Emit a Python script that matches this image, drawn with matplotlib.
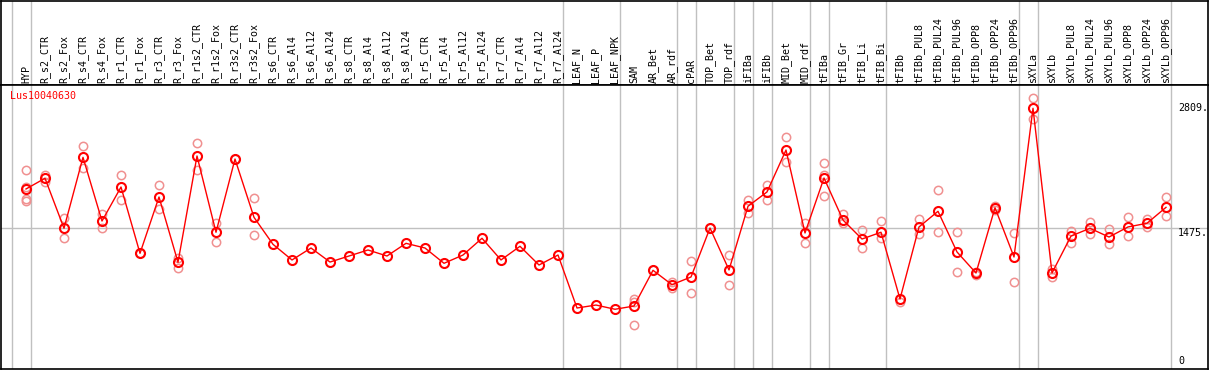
import matplotlib
matplotlib.use("Agg")
import matplotlib.pyplot as plt

labels = ["HYP", "R_s2_CTR", "R_s2_Fox", "R_s4_CTR", "R_s4_Fox", "R_r1_CTR", "R_r1_Fox",
          "R_r3_CTR", "R_r3_Fox", "R_r1s2_CTR", "R_r1s2_Fox", "R_r3s2_CTR", "R_r3s2_Fox",
          "R_s6_CTR", "R_s6_Al4", "R_s6_Al12", "R_s6_Al24", "R_s8_CTR", "R_s8_Al4",
          "R_s8_Al12", "R_s8_Al24", "R_r5_CTR", "R_r5_Al4", "R_r5_Al12", "R_r5_Al24",
          "R_r7_CTR", "R_r7_Al4", "R_r7_Al12", "R_r7_Al24", "LEAF_N", "LEAF_P", "LEAF_NPK",
          "SAM", "AR_Bet", "AR_rdf", "cPAR", "TOP_Bet", "TOP_rdf", "iFIBa", "iFIBb",
          "MID_Bet", "MID_rdf", "tFIBa", "tFIB_Gr", "tFIB_Li", "tFIB_Bi", "tFIBb",
          "tFIBb_PUL8", "tFIBb_PUL24", "tFIBb_PUL96", "tFIBb_OPP8", "tFIBb_OPP24",
          "tFIBb_OPP96", "sXYLa", "sXYLb", "sXYLb_PUL8", "sXYLb_PUL24", "sXYLb_PUL96",
          "sXYLb_OPP8", "sXYLb_OPP24", "sXYLb_OPP96"]

# mean expression per sample
means = [1912, 2031, 1475, 2264, 1556, 1934, 1197, 1823, 1097, 2279, 1431, 2245, 1597,
         1297, 1123, 1256, 1100, 1167, 1234, 1167, 1308, 1256, 1086, 1178, 1364, 1123,
         1275, 1067, 1178, 589, 622, 575, 611, 1008, 848, 934, 1478, 1012, 1720, 1879,
         2345, 1423, 2034, 1567, 1356, 1431, 689, 1490, 1664, 1212, 978, 1704, 1156,
         2809, 978, 1389, 1475, 1378, 1490, 1531, 1708]

# replicate values (sample index, value)
rep_idx = [0, 0, 0, 0, 1, 1, 2, 2, 3, 3, 4, 4, 5, 5, 6, 7, 7, 8, 8, 9, 9, 10, 10,
           11, 12, 12, 32, 32, 32, 33, 34, 34, 35, 35, 36, 37, 37, 38, 38, 39, 39,
           40, 40, 41, 41, 42, 42, 42, 43, 43, 44, 44, 45, 45, 46, 47, 47, 48, 48,
           49, 49, 50, 50, 51, 51, 52, 52, 53, 53, 54, 54, 55, 55, 56, 56, 57, 57,
           58, 58, 59, 59, 60, 60]
rep_val = [2120, 1938, 1804, 1775, 2068, 1993, 1593, 1364, 2390, 2142, 1634, 1475,
           2064, 1786, 1197, 1953, 1686, 1148, 1037, 2420, 2123, 1534, 1319,
           2250, 1808, 1397, 686, 659, 400, 1008, 875, 808, 1108, 756, 1478, 1178, 845,
           1790, 1649, 1956, 1786, 2487, 2209, 1531, 1308, 2198, 2064, 1834,
           1631, 1531, 1453, 1253, 1553, 1364, 659, 1575, 1408, 1897, 1431,
           1431, 989, 953, 990, 1726, 1679, 1419, 878, 2920, 2690, 1026, 930,
           1445, 1315, 1545, 1408, 1467, 1297, 1601, 1386, 1575, 1493, 1823, 1608]

# group separators sit just after these sample indices
group_ends = [-1, 0, 28, 31, 34, 35, 37, 38, 39, 41, 42, 45, 52, 53, 60]

W, H = 1209, 370
fig = plt.figure(figsize=(W / 100, H / 100), dpi=100)
mono = "DejaVu Sans Mono"

x = list(range(len(labels)))
xlim = ((1 - 26) / 19, (1208 - 26) / 19)

# header with sample names
hax = fig.add_axes([1 / W, (H - 85) / H, 1207 / W, 84.5 / H])
hax.set_xlim(*xlim)
hax.set_ylim(0, 1)
for i, lab in enumerate(labels):
    hax.text(i, 0.02, lab, rotation=90, ha="center", va="bottom",
             fontsize=7.2, family=mono, color="black")
for g in group_ends:
    hax.axvline(g + 0.25, color="#c0c0c0", lw=1)
hax.set_xticks([])
hax.set_yticks([])
for s in hax.spines.values():
    s.set_color("black")
    s.set_linewidth(1.2)

# main plot
ax = fig.add_axes([1 / W, 1 / H, 1207 / W, 284 / H])
ax.set_xlim(*xlim)
ax.set_ylim(-89, 3068)
for g in group_ends:
    ax.axvline(g + 0.25, color="#c0c0c0", lw=1, zorder=1)
ax.axhline(1475, color="#c0c0c0", lw=1, zorder=1)

ax.plot(rep_idx, rep_val, linestyle="none", marker="o", markersize=6,
        markerfacecolor="none", markeredgecolor="#f09090", markeredgewidth=1.1, zorder=2)
ax.plot(x, means, color="red", lw=1, marker="o", markersize=6.5,
        markerfacecolor="none", markeredgecolor="red", markeredgewidth=1.5, zorder=3)

rx = (1178 - 26) / 19
ax.text(rx, 2809, "2809.", fontsize=7.2, family=mono, ha="left", va="center")
ax.text(rx, 1475, "1475.", fontsize=7.2, family=mono, ha="left", va="top")
ax.text(rx, 0, "0", fontsize=7.2, family=mono, ha="left", va="center")
ax.text(9 / 1207, 0.98, "Lus10040630", transform=ax.transAxes, fontsize=7.2,
        family=mono, color="red", ha="left", va="top")

ax.set_xticks([])
ax.set_yticks([])
for s in ax.spines.values():
    s.set_color("black")
    s.set_linewidth(1.2)

fig.savefig("out.png", dpi=100)
